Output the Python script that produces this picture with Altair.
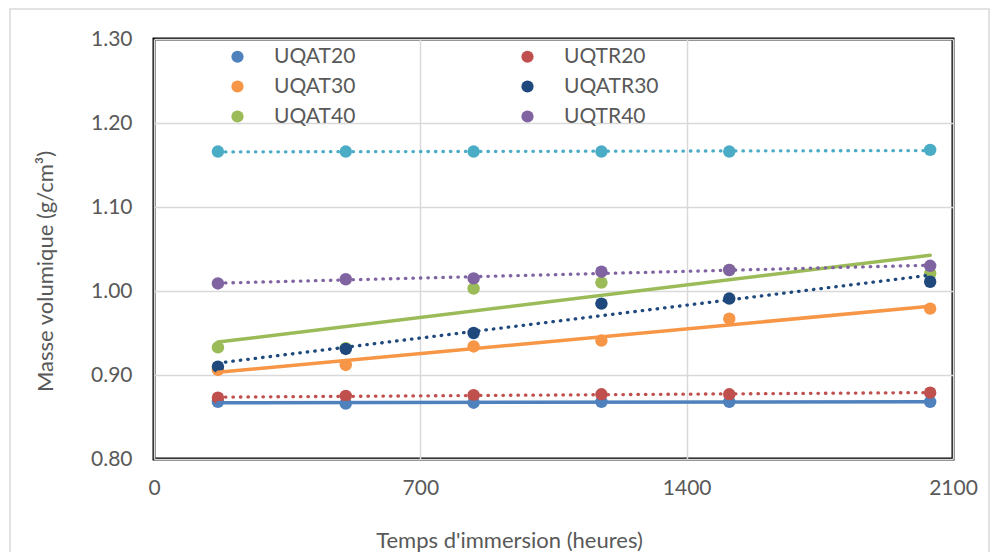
import altair as alt
import pandas as pd

# Immersion time (hours) at each weighing
hours = [168, 504, 840, 1176, 1512, 2040]

# Density (g/cm3) measured for each sample series
uqat20 = [0.868, 0.866, 0.867, 0.868, 0.868, 0.868]
uqat30 = [0.906, 0.912, 0.934, 0.941, 0.967, 0.979]
uqat40 = [0.933, 0.932, 1.003, 1.010, 1.025, 1.021]
uqtr20 = [0.873, 0.875, 0.876, 0.877, 0.877, 0.879]
uqatr30 = [0.910, 0.931, 0.950, 0.985, 0.991, 1.011]
uqtr40 = [1.009, 1.014, 1.015, 1.023, 1.025, 1.030]
serie7 = [1.166, 1.166, 1.166, 1.166, 1.166, 1.168]

series_names = ["UQAT20", "UQAT30", "UQAT40", "UQTR20", "UQATR30", "UQTR40", "Série 7"]
series_values = [uqat20, uqat30, uqat40, uqtr20, uqatr30, uqtr40, serie7]
series_colors = ["#4F81BD", "#F79646", "#9BBB59", "#C0504D", "#1F497D", "#8064A2", "#4BACC6"]

# Series with a solid trend line; the others get a round-dot trend line
solid_series = ["UQAT20", "UQAT30", "UQAT40"]
dotted_series = ["UQTR20", "UQATR30", "UQTR40", "Série 7"]

# Legend entries (laid out column by column, three per column)
legend_order = ["UQAT20", "UQAT30", "UQAT40", "UQTR20", "UQATR30", "UQTR40"]

x_ticks = [0, 700, 1400, 2100]
y_ticks = [0.8, 0.9, 1.0, 1.1, 1.2, 1.3]

rows = []
for idx, (name, values) in enumerate(zip(series_names, series_values)):
    for h, v in zip(hours, values):
        rows.append({"serie": name, "heures": h, "masse": v, "ordre": idx})
df = pd.DataFrame(rows)

FONT = "Lato"
TEXT = "#595959"
W, H = 799, 420

x_enc = alt.X(
    "heures:Q",
    scale=alt.Scale(domain=[0, 2100], nice=False),
    axis=alt.Axis(
        values=x_ticks,
        format="d",
        labelFlush=False,
        title="Temps d'immersion (heures)",
        titleX=355,
        titleY=81,
        titleBaseline="middle",
        titleAlign="center",
        labelPadding=18,
    ),
)
y_enc = alt.Y(
    "masse:Q",
    scale=alt.Scale(domain=[0.8, 1.3], nice=False, zero=False),
    axis=alt.Axis(
        values=y_ticks,
        format=".2f",
        labelFlush=False,
        title="Masse volumique (g/cm³)",
        titleX=-109,
        titleY=232,
        titleBaseline="middle",
        titleAlign="center",
        labelPadding=22,
    ),
)

color_scale = alt.Scale(domain=series_names, range=series_colors)

points = alt.Chart(df).mark_circle(size=155, opacity=1).encode(
    x=x_enc,
    y=y_enc,
    color=alt.Color(
        "serie:N",
        scale=color_scale,
        legend=alt.Legend(
            values=legend_order,
            columns=2,
            orient="none",
            legendX=73,
            legendY=7,
            title=None,
            symbolType="circle",
            symbolSize=150,
            symbolStrokeWidth=0,
            labelFont=FONT,
            labelFontSize=21,
            labelColor=TEXT,
            labelOffset=26,
            columnPadding=161,
            rowPadding=8,
            padding=0,
        ),
    ),
    order=alt.Order("ordre:Q"),
)

solid_trend = (
    alt.Chart(df)
    .transform_filter(alt.FieldOneOfPredicate(field="serie", oneOf=solid_series))
    .transform_regression("heures", "masse", groupby=["serie"])
    .mark_line(strokeWidth=3.5, strokeCap="round")
    .encode(
        x="heures:Q",
        y="masse:Q",
        color=alt.Color("serie:N", scale=color_scale, legend=None),
    )
)

dotted_trend = (
    alt.Chart(df)
    .transform_filter(alt.FieldOneOfPredicate(field="serie", oneOf=dotted_series))
    .transform_regression("heures", "masse", groupby=["serie"])
    .mark_line(strokeWidth=3.3, strokeCap="round", strokeDash=[0.5, 7.0])
    .encode(
        x="heures:Q",
        y="masse:Q",
        color=alt.Color("serie:N", scale=color_scale, legend=None),
    )
)

# Light outer frame around the whole chart area
frame = alt.Chart(pd.DataFrame({"cadre": [0]})).mark_rect(
    fillOpacity=0, stroke="#D9D9D9", strokeWidth=1.5
).encode(
    x=alt.value(-144), x2=alt.value(835), y=alt.value(-30), y2=alt.value(530)
)

chart = (
    alt.layer(frame, points, solid_trend, dotted_trend)
    .resolve_legend(color="independent")
    .properties(
        width=W,
        height=H,
        autosize=alt.AutoSizeParams(type="none"),
        padding={"left": 154, "top": 39, "right": 45, "bottom": 93},
        background="white",
    )
    .configure_view(stroke="black", strokeWidth=3)
    .configure_axis(
        domain=False,
        ticks=False,
        grid=True,
        gridColor="#D9D9D9",
        gridWidth=1.5,
        labelFont=FONT,
        labelFontSize=21,
        labelColor=TEXT,
        titleFont=FONT,
        titleFontSize=22,
        titleFontWeight="normal",
        titleColor=TEXT,
    )
)

chart.save("out.html", embed_options={"renderer": "svg", "actions": False})
